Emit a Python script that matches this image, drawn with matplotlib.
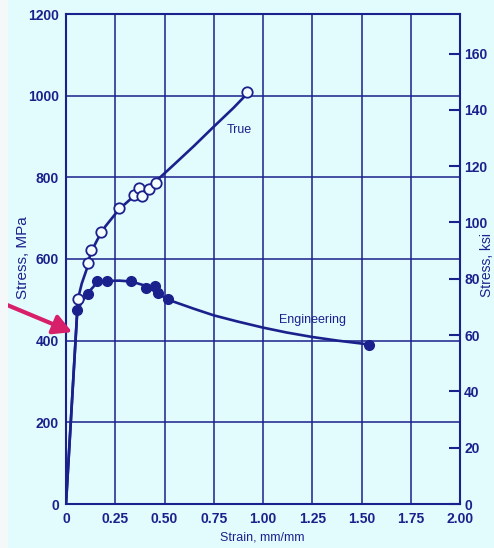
import matplotlib
matplotlib.use("Agg")
import matplotlib.pyplot as plt
from matplotlib.patches import Rectangle

# stress-strain data
true_pts_strain = [0.06, 0.114, 0.126, 0.18, 0.27, 0.344, 0.372, 0.385, 0.419, 0.458, 0.92]
true_pts_stress = [502, 591, 622, 667, 726, 756, 773, 755, 771, 786, 1010]

eng_pts_strain = [0.058, 0.112, 0.156, 0.21, 0.329, 0.404, 0.45, 0.465, 0.517, 1.539]
eng_pts_stress = [474, 514, 545, 545, 545, 529, 534, 516, 502, 390]

true_line_strain = [0, 0.057, 0.062, 0.08, 0.105, 0.125, 0.16, 0.2, 0.27, 0.34, 0.4, 0.46, 0.55, 0.65, 0.75, 0.85, 0.92]
true_line_stress = [0, 472, 505, 540, 575, 615, 648, 680, 722, 752, 772, 792, 832, 877, 924, 970, 1005]

eng_line_strain = [0, 0.057, 0.08, 0.11, 0.15, 0.2, 0.27, 0.33, 0.4, 0.46, 0.52,
                   0.65, 0.75, 0.87, 1.0, 1.12, 1.25, 1.38, 1.5, 1.54]
eng_line_stress = [0, 472, 495, 516, 538, 546, 547, 545, 535, 518, 500,
                   478, 462, 447, 432, 420, 409, 400, 393, 390]

x_ticks = [0, 0.25, 0.5, 0.75, 1.0, 1.25, 1.5, 1.75, 2.0]
x_labels = ["0", "0.25", "0.50", "0.75", "1.00", "1.25", "1.50", "1.75", "2.00"]
y_ticks = [0, 200, 400, 600, 800, 1000, 1200]
ksi_ticks = [0, 20, 40, 60, 80, 100, 120, 140, 160]
MPA_PER_KSI = 6.895

bg = "#e2fbfd"
ink = "#1b218c"

plt.rcParams["font.family"] = ["Liberation Sans", "DejaVu Sans"]
plt.rcParams["text.color"] = ink

fig = plt.figure(figsize=(4.94, 5.48), dpi=100, facecolor=bg)
fig.patches.append(Rectangle((0, 0), 8 / 494, 1, transform=fig.transFigure,
                             facecolor="#f4f8f9", edgecolor="none", zorder=0))
ax = fig.add_axes([66 / 494, 44 / 548, 394 / 494, 490 / 548])
ax.set_facecolor(bg)

ax.plot(eng_line_strain, eng_line_stress, color=ink, lw=1.9, zorder=3)
ax.plot(true_line_strain, true_line_stress, color=ink, lw=1.9, zorder=3)
ax.plot(eng_pts_strain, eng_pts_stress, "o", ms=7, color=ink, zorder=4)
ax.plot(true_pts_strain, true_pts_stress, "o", ms=7.5, mfc="#f4feff", mec=ink,
        mew=1.3, zorder=4)

ax.text(0.88, 917, "True", fontsize=9, ha="center", va="center")
ax.text(1.25, 451, "Engineering", fontsize=9, ha="center", va="center")

ax.set_xlim(0, 2.0)
ax.set_ylim(0, 1200)
ax.set_xticks(x_ticks, x_labels)
ax.set_yticks(y_ticks)
ax.grid(True, color=ink, lw=1.1)
ax.tick_params(axis="both", length=0, colors=ink, labelsize=10)
ax.tick_params(axis="x", pad=6)
ax.tick_params(axis="y", pad=5)
for lbl in ax.get_xticklabels() + ax.get_yticklabels():
    lbl.set_fontweight("bold")
for s in ax.spines.values():
    s.set_color(ink)
    s.set_linewidth(1.5)

ax2 = ax.twinx()
ax2.set_ylim(0, 1200 / MPA_PER_KSI)
ax2.set_yticks(ksi_ticks)
ax2.tick_params(axis="y", direction="in", length=8, width=1.5, colors=ink,
                labelsize=10, pad=3)
for lbl in ax2.get_yticklabels():
    lbl.set_fontweight("bold")
for s in ax2.spines.values():
    s.set_visible(False)

# axis titles placed where the scan has them
fig.text(262 / 494, 1 - 538 / 548, "Strain, mm/mm", fontsize=9,
         ha="center", va="center")
fig.text(23 / 494, 1 - 258 / 548, "Stress, MPa", fontsize=11,
         rotation=90, ha="center", va="center")
fig.text(487 / 494, 1 - 265 / 548, "Stress, ksi", fontsize=10,
         rotation=90, ha="center", va="center")

# pink pointer toward the yield region
ax.annotate("", xy=(0.031, 421), xycoords="data",
            xytext=(0.0, 1 - 302 / 548), textcoords="figure fraction",
            arrowprops=dict(arrowstyle="-|>,head_length=1.1,head_width=0.6",
                            color="#d81f6a", lw=3, shrinkA=0, shrinkB=0),
            annotation_clip=False)

fig.savefig("out.png", dpi=100, facecolor=bg)
